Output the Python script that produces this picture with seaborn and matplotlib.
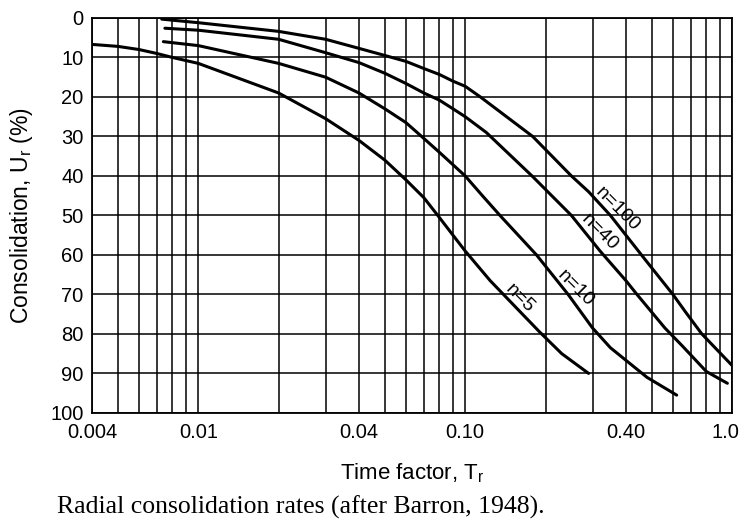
import numpy as np
import pandas as pd
import matplotlib
matplotlib.use("Agg")
import matplotlib.pyplot as plt
import matplotlib.ticker as mticker
import matplotlib.transforms as mtransforms
import seaborn as sns

t_n5 = [0.004, 0.005, 0.006, 0.007, 0.008, 0.01, 0.02, 0.03, 0.04, 0.05, 0.06,
        0.07, 0.08, 0.09, 0.1, 0.124, 0.156, 0.19, 0.23, 0.29]
u_n5 = [6.7, 7.2, 8.0, 9.0, 10.0, 11.5, 19.0, 25.5, 31.0, 36.0, 41.0,
        45.5, 50.5, 55.0, 59.0, 66.5, 73.5, 79.5, 85.0, 90.0]

t_n10 = [0.0074, 0.01, 0.02, 0.03, 0.04, 0.05, 0.06, 0.07, 0.08, 0.1, 0.116,
         0.135, 0.185, 0.243, 0.3, 0.35, 0.48, 0.62]
u_n10 = [6.0, 7.0, 11.5, 15.0, 19.0, 23.0, 26.5, 30.5, 34.0, 40.0, 45.0,
         50.0, 60.0, 70.0, 78.5, 83.5, 91.0, 95.5]

t_n40 = [0.0075, 0.01, 0.02, 0.03, 0.04, 0.05, 0.06, 0.07, 0.08, 0.09, 0.1,
         0.12, 0.178, 0.25, 0.32, 0.4, 0.44, 0.5, 0.56, 0.65, 0.8, 0.96]
u_n40 = [2.6, 3.1, 5.4, 8.8, 11.3, 14.0, 16.6, 19.0, 20.8, 23.0, 25.0,
         29.0, 40.0, 50.0, 59.0, 66.5, 70.0, 74.5, 78.5, 83.0, 89.5, 92.5]

t_n100 = [0.0073, 0.01, 0.02, 0.03, 0.04, 0.05, 0.06, 0.07, 0.08, 0.09, 0.1,
          0.114, 0.179, 0.25, 0.29, 0.35, 0.47, 0.6, 0.67, 0.77, 1.0]
u_n100 = [0.3, 1.2, 3.4, 5.4, 7.7, 9.5, 11.0, 12.8, 14.3, 16.0, 17.3,
          20.0, 30.0, 40.0, 44.0, 50.0, 61.0, 70.0, 74.5, 80.0, 88.0]

curve_names = ["n=5", "n=10", "n=40", "n=100"]
label_t = [0.16, 0.258, 0.32, 0.37]
label_u = [71.0, 68.4, 54.4, 48.5]

x_ticks = [0.004, 0.01, 0.04, 0.10, 0.40, 1.0]
x_tick_labels = ["0.004", "0.01", "0.04", "0.10", "0.40", "1.0"]
y_ticks = [0, 10, 20, 30, 40, 50, 60, 70, 80, 90, 100]

frames = []
for name, t, u in zip(curve_names,
                      [t_n5, t_n10, t_n40, t_n100],
                      [u_n5, u_n10, u_n40, u_n100]):
    frames.append(pd.DataFrame({"T": t, "U": u, "n": name}))
df = pd.concat(frames, ignore_index=True)

sns.set_theme(style="white")
plt.rcParams["font.family"] = ["Liberation Sans", "DejaVu Sans"]
plt.rcParams["mathtext.fontset"] = "custom"
plt.rcParams["mathtext.rm"] = "Liberation Sans"

fig = plt.figure(figsize=(7.44, 5.28), dpi=100)
ax = fig.add_axes([0.1237, 0.218, 0.8603, 0.748])

for name in curve_names:
    sub = df[df["n"] == name]
    sns.lineplot(data=sub, x="T", y="U", ax=ax, color="black", linewidth=2.2,
                 estimator=None, sort=False)

ax.set_xscale("log")
ax.set_xlim(0.004, 1.0)
ax.set_ylim(100, 0)

ax.xaxis.set_major_locator(mticker.FixedLocator(x_ticks))
ax.xaxis.set_major_formatter(mticker.FixedFormatter(x_tick_labels))
ax.xaxis.set_minor_locator(mticker.LogLocator(base=10, subs=np.arange(1, 10)))
ax.xaxis.set_minor_formatter(mticker.NullFormatter())
ax.set_yticks(y_ticks)

ax.grid(True, which="both", color="black", linewidth=1.1)
ax.tick_params(axis="both", which="both", length=0, labelsize=14.5, colors="black")
ax.tick_params(axis="x", pad=7)
ax.tick_params(axis="y", pad=6)
for sp in ax.spines.values():
    sp.set_color("black")
    sp.set_linewidth(1.3)

# keep the last x tick label inside the canvas
last = ax.xaxis.get_major_ticks()[-1].label1
last.set_transform(last.get_transform() +
                   mtransforms.ScaledTranslation(-5 / 72, 0, fig.dpi_scale_trans))

ax.set_xlabel(r"Time factor, T$_\mathregular{r}$", fontsize=16, color="black", labelpad=14)
ax.set_ylabel(r"Consolidation, U$_\mathregular{r}$ (%)", fontsize=16.5, color="black", labelpad=11)

for name, t, u in zip(curve_names, label_t, label_u):
    ax.text(t, u, name, rotation=-45, rotation_mode="anchor", ha="center", va="center",
            fontsize=14, color="black")

fig.text(0.076, 0.040, "Radial consolidation rates (after Barron, 1948).",
         family="Liberation Serif", fontsize=18.5, color="black", ha="left", va="center")

fig.savefig("out.png", dpi=100)
